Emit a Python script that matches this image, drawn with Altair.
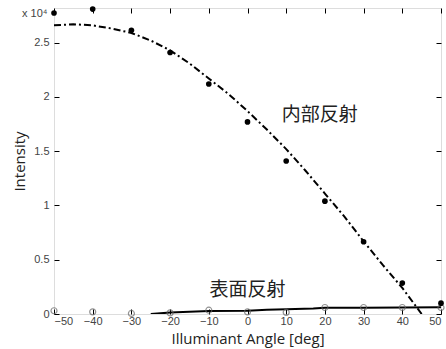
import altair as alt
import pandas as pd

# measured points
angles = [-50, -40, -30, -20, -10, 0, 10, 20, 30, 40, 50]
internal = [2.774, 2.81, 2.615, 2.41, 2.12, 1.77, 1.41, 1.04, 0.666, 0.285, 0.10]
surface = [0.03, 0.02, 0.005, 0.01, 0.035, 0.02, 0.015, 0.06, 0.06, 0.06, 0.06]

# fitted curve (internal reflection)
fit_x = [-50, -45, -40, -35, -30, -25, -20, -15, -10, -5, 0, 5, 10, 15, 20, 25, 30, 35, 40, 45]
fit_y = [2.66, 2.67, 2.66, 2.63, 2.59, 2.52, 2.43, 2.31, 2.17, 2.03, 1.87, 1.70, 1.52, 1.32, 1.11, 0.90, 0.67, 0.45, 0.24, 0.0]

# fitted line (surface reflection)
sfit_x = [-25, -20, -10, 0, 5, 10, 17, 20, 30, 40, 50]
sfit_y = [0.0, 0.013, 0.027, 0.03, 0.04, 0.043, 0.05, 0.057, 0.058, 0.06, 0.062]

labels = ["内部反射", "表面反射"]
label_x = [18.7, 0.0]
label_y = [1.83, 0.22]

x_ticks = [-50, -40, -30, -20, -10, 0, 10, 20, 30, 40, 50]
y_ticks = [0, 0.5, 1, 1.5, 2, 2.5]

pts = pd.DataFrame({"angle": angles, "internal": internal, "surface": surface})
fit = pd.DataFrame({"angle": fit_x, "value": fit_y})
sfit = pd.DataFrame({"angle": sfit_x, "value": sfit_y})
lab = pd.DataFrame({"text": labels, "angle": label_x, "value": label_y})

xs = alt.Scale(domain=[-50, 50], nice=False)
ys = alt.Scale(domain=[0, 2.82], nice=False, zero=False)

lab_font = "Liberation Sans"
common_axis = dict(
    domain=False, grid=False, tickSize=5, tickColor="black", tickWidth=1,
    labelFont=lab_font, labelFontSize=11, labelColor="#444",
    titleFont="Open Sans", titleFontSize=15, titleColor="#222", titleFontWeight="normal",
)

main_pts = alt.Chart(pts).mark_circle(size=32, color="black", opacity=1).encode(
    x=alt.X("angle:Q", scale=xs, axis=alt.Axis(
        orient="bottom", offset=-5, values=x_ticks, labelPadding=1,
        title="Illuminant Angle [deg]", titlePadding=5, **common_axis)),
    y=alt.Y("internal:Q", scale=ys, axis=alt.Axis(
        orient="left", offset=-5, values=y_ticks, labelPadding=5,
        labelExpr="datum.value", title="Intensity", titlePadding=6, **common_axis)),
)

surf_pts = alt.Chart(pts).mark_point(size=36, color="#666", filled=False, strokeWidth=1.2).encode(
    x=alt.X("angle:Q", scale=xs, axis=alt.Axis(
        orient="top", offset=-5, values=x_ticks, labels=False, title=None,
        domain=False, grid=False, tickSize=5, tickColor="black")),
    y=alt.Y("surface:Q", scale=ys, axis=alt.Axis(
        orient="right", offset=-5, values=y_ticks, labels=False, title=None,
        domain=False, grid=False, tickSize=5, tickColor="black")),
)

fit_line = alt.Chart(fit).mark_line(color="black", strokeWidth=2, strokeDash=[7, 3, 2, 3], clip=True).encode(
    x=alt.X("angle:Q", scale=xs, axis=None),
    y=alt.Y("value:Q", scale=ys, axis=None),
)

sfit_line = alt.Chart(sfit).mark_line(color="black", strokeWidth=2, clip=True).encode(
    x=alt.X("angle:Q", scale=xs, axis=None),
    y=alt.Y("value:Q", scale=ys, axis=None),
)

texts = alt.Chart(lab).mark_text(font="Noto Sans CJK JP", fontSize=19, color="#222").encode(
    x=alt.X("angle:Q", scale=xs, axis=None),
    y=alt.Y("value:Q", scale=ys, axis=None),
    text="text:N",
)

exp_df = pd.DataFrame({"t": ["x 10⁴"]})
exponent = alt.Chart(exp_df).mark_text(
    font=lab_font, fontSize=11, color="#444", align="left", baseline="middle"
).encode(x=alt.value(-32), y=alt.value(6), text="t:N")

chart = alt.layer(sfit_line, fit_line, surf_pts, main_pts, texts, exponent).resolve_axis(
    x="independent", y="independent"
).properties(
    width=387, height=306,
    padding={"left": 54, "top": 8, "right": 5, "bottom": 35},
    autosize=alt.AutoSizeParams(type="none"),
).configure_view(stroke="black", strokeWidth=2).configure(background="white")

chart.save("out.html", embed_options={"renderer": "svg", "actions": False})
